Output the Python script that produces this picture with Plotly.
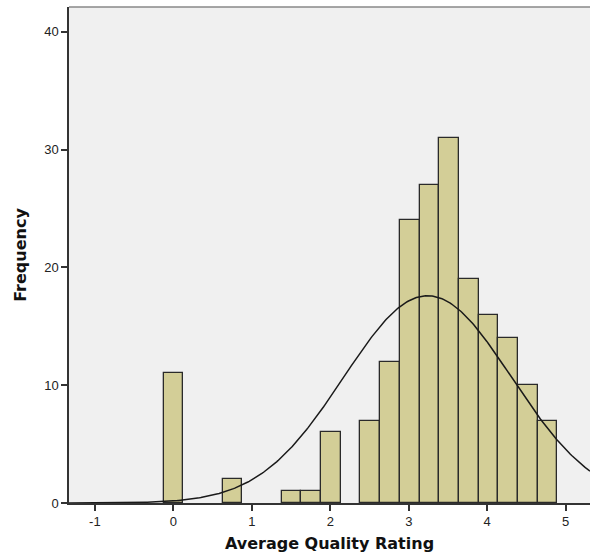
import numpy as np
import plotly.graph_objects as go

# Histogram data (bin centers and counts)
bin_width = 0.251
bin_centers = [0.0, 0.753, 1.506, 1.757, 2.008, 2.510, 2.761, 3.012, 3.263,
               3.514, 3.765, 4.016, 4.267, 4.518, 4.769]
counts = [11, 2, 1, 1, 6, 7, 12, 24, 27, 31, 19, 16, 14, 10, 7]

# Fitted normal curve parameters
mean_val = 3.24
sd_val = 1.07
n_total = sum(counts)

x_ticks = [-1, 0, 1, 2, 3, 4, 5]
y_ticks = [0, 10, 20, 30, 40]

xs = np.linspace(-1.33, 5.31, 400)
ys = n_total * bin_width / (sd_val * np.sqrt(2 * np.pi)) * np.exp(-(xs - mean_val) ** 2 / (2 * sd_val ** 2))

fig = go.Figure()
fig.add_trace(go.Bar(
    x=bin_centers, y=counts, width=[bin_width] * len(bin_centers),
    marker=dict(color="#D3CE97", line=dict(color="#2a2a2a", width=1.3)),
    hoverinfo="x+y", showlegend=False,
))
fig.add_trace(go.Scatter(
    x=xs, y=ys, mode="lines", line=dict(color="#1a1a1a", width=1.5),
    showlegend=False, hoverinfo="skip",
))

title_font = dict(family="DejaVu Sans, Verdana, sans-serif", size=16, color="#111111")

fig.update_layout(
    width=590, height=559,
    margin=dict(l=69, r=0, t=7, b=56, autoexpand=False),
    paper_bgcolor="white", plot_bgcolor="#F0F0F0",
    bargap=0,
    font=dict(family="Liberation Sans, Arial, sans-serif", size=13, color="#222222"),
    xaxis=dict(
        range=[-1.33, 5.31], tickvals=x_ticks, ticktext=[str(v) for v in x_ticks],
        showgrid=False, zeroline=False, showline=True, linecolor="#333333", linewidth=1.5,
        ticks="outside", ticklen=6, tickwidth=1.5, tickcolor="#333333",
        title=dict(text="<b>Average Quality Rating</b>", font=title_font, standoff=9),
        automargin=False,
    ),
    yaxis=dict(
        range=[0, 42.1], tickvals=y_ticks, ticktext=[str(v) for v in y_ticks],
        showgrid=False, zeroline=False, showline=True, linecolor="#333333", linewidth=1.5,
        ticks="outside", ticklen=6, tickwidth=1.5, tickcolor="#333333",
        title=dict(text="<b>Frequency</b>", font=title_font, standoff=14),
        automargin=False,
    ),
    shapes=[dict(type="line", xref="paper", yref="paper", x0=0, x1=1, y0=1, y1=1,
                 line=dict(color="#888888", width=1.5))],
)

fig.write_html("out.html", config={"displayModeBar": False},
               post_script="document.body.style.margin='0';")
